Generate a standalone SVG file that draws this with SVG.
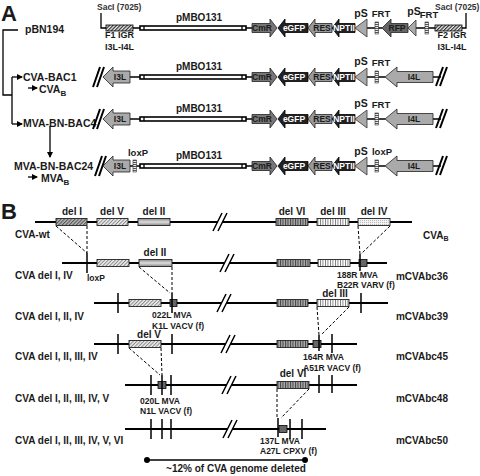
<svg xmlns="http://www.w3.org/2000/svg" width="480" height="476" viewBox="0 0 480 476">
<style>
text{font-family:"Liberation Sans",Arial,sans-serif;font-weight:bold;fill:#1a1a1a}
.t{font-size:10.5px}
.lb{font-size:10px}
.sm{font-size:8.5px}
.g{font-size:8.5px;text-anchor:middle}
.gw{font-size:8.5px;text-anchor:middle;fill:#fff}
.c{text-anchor:middle}
.e{text-anchor:end}
.ln{stroke:#000;stroke-width:1.3;fill:none}
.gl{stroke:#000;stroke-width:2;fill:none}
.sl{stroke:#000;stroke-width:2;fill:none}
.slb{stroke:#000;stroke-width:1.5;fill:none}
.bar{fill:#fff;stroke:#000;stroke-width:1.6}
.i34{fill:#aaa;stroke:#222;stroke-width:0.8}
.cmr{fill:#777;stroke:#222;stroke-width:0.8}
.blk{fill:#222;stroke:#000;stroke-width:0.8}
.res{fill:#999;stroke:#222;stroke-width:0.8}
.rfp{fill:#666;stroke:#222;stroke-width:0.8}
.ps{fill:#aaa;stroke:#333;stroke-width:0.8}
.frt{fill:url(#frt);stroke:#333;stroke-width:0.6}
.igr{fill:url(#igr);stroke:#000;stroke-width:0.8}
.tk{stroke:#000;stroke-width:1.5}
.dash{stroke:#000;stroke-width:1;stroke-dasharray:3,2;fill:none}
.sq{fill:#666;stroke:#000;stroke-width:0.8}
.box{stroke:#222;stroke-width:0.9}
</style>
<defs>
<marker id="ah" markerWidth="6" markerHeight="6" refX="5" refY="3" orient="auto" markerUnits="userSpaceOnUse"><path d="M0,0 L6,3 L0,6 Z" fill="#000"/></marker>
<pattern id="igr" width="2.5" height="2.5" patternUnits="userSpaceOnUse" patternTransform="rotate(45)"><rect width="2.5" height="2.5" fill="#eee"/><rect width="1.2" height="2.5" fill="#333"/></pattern>
<pattern id="frt" width="3" height="2" patternUnits="userSpaceOnUse"><rect width="3" height="2" fill="#eee"/><rect width="3" height="0.9" fill="#444"/></pattern>
<pattern id="pI" width="2.5" height="2.5" patternUnits="userSpaceOnUse" patternTransform="rotate(45)"><rect width="2.5" height="2.5" fill="#bbb"/><rect width="1.1" height="2.5" fill="#555"/></pattern>
<pattern id="pV" width="2.5" height="2.5" patternUnits="userSpaceOnUse" patternTransform="rotate(45)"><rect width="2.5" height="2.5" fill="#eee"/><rect width="1" height="2.5" fill="#888"/></pattern>
<linearGradient id="gII" x1="0" y1="0" x2="0" y2="1"><stop offset="0" stop-color="#888"/><stop offset="0.5" stop-color="#ddd"/><stop offset="1" stop-color="#888"/></linearGradient>
<pattern id="pVI" width="2.5" height="4" patternUnits="userSpaceOnUse"><rect width="2.5" height="4" fill="#aaa"/><rect width="1" height="4" fill="#444"/></pattern>
<pattern id="pIII" width="2.5" height="4" patternUnits="userSpaceOnUse"><rect width="2.5" height="4" fill="#fff"/><rect width="0.9" height="4" fill="#777"/></pattern>
<pattern id="pIV" width="2" height="2" patternUnits="userSpaceOnUse"><rect width="2" height="2" fill="#f2f2f2"/><rect width="0.8" height="0.8" fill="#999"/></pattern>
</defs>
<rect width="480" height="476" fill="#fff"/>

<!-- Part A -->
<text x="1" y="21" style="font-size:22px">A</text>

<g id="tree">
<path class="ln" d="M18,30 H3 V95 H12"/>
<path class="ln" d="M12,77 V124"/>
<line class="ln" x1="12" y1="77" x2="22" y2="77" marker-end="url(#ah)"/>
<line class="ln" x1="12" y1="124" x2="22" y2="124" marker-end="url(#ah)"/>
<line class="ln" x1="50" y1="126" x2="50" y2="157" marker-end="url(#ah)"/>
<line class="ln" x1="28" y1="88" x2="37" y2="88" marker-end="url(#ah)"/>
<line class="ln" x1="28" y1="177" x2="37" y2="177" marker-end="url(#ah)"/>
<text class="t" x="25" y="33">pBN194</text>
<text class="t" x="23" y="81">CVA-BAC1</text>
<text class="t" x="39" y="93">CVA<tspan style="font-size:8px" dy="3">B</tspan></text>
<text class="t" x="23" y="127">MVA-BN-BAC4</text>
<text class="t" x="14" y="170">MVA-BN-BAC24</text>
<text class="t" x="41" y="182">MVA<tspan style="font-size:8px" dy="3">B</tspan></text>
</g>

<g id="pBN194" transform="translate(0,28)">
<path class="ln" d="M101,-15 V0 H106"/>
<path class="ln" d="M133,0 H140 M246,0 H252 M367,0 H382 M415,0 H435 M462,0 H466 V-15"/>
<text class="sm" x="97" y="-18" style="fill:#333">SacI (7025)</text>
<text class="sm" x="435" y="-18" style="fill:#333">SacI (7025)</text>
<rect class="igr" x="106" y="-3" width="27" height="6"/>
<text class="c" x="119.5" y="10" style="font-size:9px">F1 IGR</text>
<text class="c" x="119.5" y="22" style="font-size:9px">I3L-I4L</text>
<rect class="bar" x="140" y="-2" width="106" height="4"/>
<path class="ln" d="M144,-2 V2 M242,-2 V2"/>
<text class="lb c" x="199" y="-7">pMBO131</text>
<path class="cmr" d="M252,-4.5 H270 V-9 L277,0 L270,9 V4.5 H252 Z"/>
<text class="g" x="262" y="3">CmR</text>
<path class="blk" d="M278,0 L285,-9 V-4.5 H308 V4.5 H285 V9 Z"/>
<text class="gw" x="294" y="3">eGFP</text>
<path class="res" d="M308,0 L315,-9 V-4.5 H332 V4.5 H315 V9 Z"/>
<text class="g" x="322" y="3">RES</text>
<path class="blk" d="M332,0 L339,-9 V-4.5 H355 V4.5 H339 V9 Z"/>
<text class="gw" x="344" y="3">NPTII</text>
<path class="ps" d="M355,0 L367,-9 V9 Z"/>
<text class="c" x="361" y="-11" style="font-size:10.5px">pS</text>
<rect class="frt" x="375" y="-6" width="3.5" height="12"/>
<text class="c" x="381" y="-11" style="font-size:9.5px">FRT</text>
<path class="rfp" d="M382,0 L391,-9 V-4.5 H408 V4.5 H391 V9 Z"/>
<text class="g" x="397" y="3">RFP</text>
<path class="ps" d="M408,0 L416,-8 V8 Z"/>
<text class="c" x="414" y="-13" style="font-size:10.5px">pS</text>
<rect class="frt" x="425" y="-6" width="3.5" height="12"/>
<text class="c" x="429" y="-10" style="font-size:9.5px">FRT</text>
<rect class="igr" x="435" y="-3" width="27" height="6"/>
<text class="c" x="452" y="10" style="font-size:9px">F2 IGR</text>
<text class="c" x="452" y="22" style="font-size:9px">I3L-I4L</text>
</g>

<g id="CVA-BAC1" transform="translate(0,77)">
<path class="ln" d="M130,0 H140 M246,0 H252 M367,0 H385 M433,0 H441"/>
<path class="sl" d="M93,10 L100,-10 M97,10 L104,-10"/>
<path class="i34" d="M103,0 L113,-10 V-6 H130 V6 H113 V10 Z"/>
<text class="g" x="120" y="3">I3L</text>
<rect class="bar" x="140" y="-2" width="106" height="4"/>
<path class="ln" d="M144,-2 V2 M242,-2 V2"/>
<text class="lb c" x="199" y="-7">pMBO131</text>
<path class="cmr" d="M252,-4.5 H270 V-9 L277,0 L270,9 V4.5 H252 Z"/>
<text class="g" x="262" y="3">CmR</text>
<path class="blk" d="M278,0 L285,-9 V-4.5 H308 V4.5 H285 V9 Z"/>
<text class="gw" x="294" y="3">eGFP</text>
<path class="res" d="M308,0 L315,-9 V-4.5 H332 V4.5 H315 V9 Z"/>
<text class="g" x="322" y="3">RES</text>
<path class="blk" d="M332,0 L339,-9 V-4.5 H355 V4.5 H339 V9 Z"/>
<text class="gw" x="344" y="3">NPTII</text>
<path class="ps" d="M355,0 L367,-9 V9 Z"/>
<text class="c" x="361" y="-12" style="font-size:10.5px">pS</text>
<rect class="frt" x="375" y="-6" width="3.5" height="12"/>
<text class="c" x="381" y="-11" style="font-size:9.5px">FRT</text>
<path class="i34" d="M385,0 L397,-10 V-5.5 H433 V5.5 H397 V10 Z"/>
<text class="g" x="414" y="3">I4L</text>
<path class="sl" d="M436,9 L443,-10 M440,9 L447,-10"/>
</g>

<g id="MVA-BN-BAC4" transform="translate(0,119)">
<path class="ln" d="M130,0 H140 M246,0 H252 M367,0 H385 M433,0 H441"/>
<path class="sl" d="M93,10 L100,-10 M97,10 L104,-10"/>
<path class="i34" d="M103,0 L113,-10 V-6 H130 V6 H113 V10 Z"/>
<text class="g" x="120" y="3">I3L</text>
<rect class="bar" x="140" y="-2" width="106" height="4"/>
<path class="ln" d="M144,-2 V2 M242,-2 V2"/>
<text class="lb c" x="199" y="-7">pMBO131</text>
<path class="cmr" d="M252,-4.5 H270 V-9 L277,0 L270,9 V4.5 H252 Z"/>
<text class="g" x="262" y="3">CmR</text>
<path class="blk" d="M278,0 L285,-9 V-4.5 H308 V4.5 H285 V9 Z"/>
<text class="gw" x="294" y="3">eGFP</text>
<path class="res" d="M308,0 L315,-9 V-4.5 H332 V4.5 H315 V9 Z"/>
<text class="g" x="322" y="3">RES</text>
<path class="blk" d="M332,0 L339,-9 V-4.5 H355 V4.5 H339 V9 Z"/>
<text class="gw" x="344" y="3">NPTII</text>
<path class="ps" d="M355,0 L367,-9 V9 Z"/>
<text class="c" x="361" y="-12" style="font-size:10.5px">pS</text>
<rect class="frt" x="375" y="-6" width="3.5" height="12"/>
<text class="c" x="381" y="-11" style="font-size:9.5px">FRT</text>
<path class="i34" d="M385,0 L397,-10 V-5.5 H433 V5.5 H397 V10 Z"/>
<text class="g" x="414" y="3">I4L</text>
<path class="sl" d="M436,9 L443,-10 M440,9 L447,-10"/>
</g>

<g id="MVA-BN-BAC24" transform="translate(0,166)">
<path class="ln" d="M130,0 H140 M246,0 H252 M367,0 H385 M433,0 H441"/>
<path class="sl" d="M95,10 L102,-10 M99,10 L106,-10"/>
<path class="i34" d="M103,0 L113,-10 V-6 H130 V6 H113 V10 Z"/>
<text class="g" x="120" y="3">I3L</text>
<rect class="frt" x="133" y="-6" width="3.5" height="12"/>
<text class="c" x="138" y="-10" style="font-size:9.5px">loxP</text>
<rect class="bar" x="140" y="-2" width="106" height="4"/>
<path class="ln" d="M144,-2 V2 M242,-2 V2"/>
<text class="lb c" x="199" y="-7">pMBO131</text>
<path class="cmr" d="M252,-4.5 H270 V-9 L277,0 L270,9 V4.5 H252 Z"/>
<text class="g" x="262" y="3">CmR</text>
<path class="blk" d="M278,0 L285,-9 V-4.5 H308 V4.5 H285 V9 Z"/>
<text class="gw" x="294" y="3">eGFP</text>
<path class="res" d="M308,0 L315,-9 V-4.5 H332 V4.5 H315 V9 Z"/>
<text class="g" x="322" y="3">RES</text>
<path class="blk" d="M332,0 L339,-9 V-4.5 H355 V4.5 H339 V9 Z"/>
<text class="gw" x="344" y="3">NPTII</text>
<path class="ps" d="M355,0 L367,-9 V9 Z"/>
<text class="c" x="361" y="-11" style="font-size:10.5px">pS</text>
<rect class="frt" x="375" y="-6" width="3.5" height="12"/>
<text class="c" x="382" y="-11" style="font-size:9.5px">loxP</text>
<path class="i34" d="M385,0 L397,-10 V-5.5 H433 V5.5 H397 V10 Z"/>
<text class="g" x="414" y="3">I4L</text>
<path class="sl" d="M436,9 L443,-10 M440,9 L447,-10"/>
</g>

<!-- Part B -->
<text x="1" y="219" style="font-size:22px">B</text>

<g id="connectors">
<path class="dash" d="M56,226 L87,253 M87,226 V253"/>
<path class="dash" d="M390,226 L361,254 M358,226 L360,254"/>
<path class="dash" d="M139,267 L170,293 M172,267 V293"/>
<path class="dash" d="M349,307 L321,335 M317,307 L319,335"/>
<path class="dash" d="M129,348 L160,375 M161,348 L162,375"/>
<path class="dash" d="M277,389 V418 M309,389 L281,418"/>
</g>

<g id="CVA-wt">
<line class="gl" x1="35" y1="222" x2="412" y2="222"/>
<rect class="box" x="56" y="218.5" width="31" height="7" fill="url(#pI)"/>
<rect class="box" x="97" y="218.5" width="31" height="7" fill="url(#pV)"/>
<rect class="box" x="138" y="218.5" width="32" height="7" fill="url(#gII)"/>
<rect class="box" x="276" y="218.5" width="32" height="7" fill="url(#pVI)"/>
<rect class="box" x="317" y="218.5" width="32" height="7" fill="url(#pIII)"/>
<rect class="box" x="358" y="218.5" width="32" height="7" fill="url(#pIV)"/>
<polygon points="213,231 222,213 227,213 218,231" fill="#fff"/>
<path class="slb" d="M213,231 L222,213 M218,231 L227,213"/>
<text class="lb c" x="72" y="215">del I</text>
<text class="lb c" x="112" y="215">del V</text>
<text class="lb c" x="154" y="215">del II</text>
<text class="lb c" x="292" y="215">del VI</text>
<text class="lb c" x="333" y="215">del III</text>
<text class="lb c" x="374" y="215">del IV</text>
<text class="lb" x="15" y="238">CVA-wt</text>
<text class="lb" x="423" y="239">CVA<tspan style="font-size:7px" dy="2">B</tspan></text>
</g>

<g id="CVA-del-I-IV">
<line class="gl" x1="62" y1="263" x2="387" y2="263"/>
<line class="tk" x1="87" y1="253" x2="87" y2="273"/>
<rect class="box" x="97" y="259.5" width="32" height="7" fill="url(#pV)"/>
<rect class="box" x="139" y="259.5" width="33" height="7" fill="url(#gII)"/>
<rect class="box" x="277" y="259.5" width="33" height="7" fill="url(#pVI)"/>
<rect class="box" x="318" y="259.5" width="32" height="7" fill="url(#pIII)"/>
<rect class="sq" x="359" y="259.5" width="8" height="7"/>
<line class="tk" x1="360" y1="254" x2="360" y2="271"/>
<polygon points="220,272 229,254 234,254 225,272" fill="#fff"/>
<path class="slb" d="M220,272 L229,254 M225,272 L234,254"/>
<text class="lb c" x="155" y="256">del II</text>
<text class="sm" x="87" y="281">loxP</text>
<text class="sm" x="337" y="278">188R MVA</text>
<text class="sm" x="337" y="288">B22R VARV (f)</text>
<text class="lb" x="15" y="279">CVA del I, IV</text>
<text class="lb e" x="448" y="280">mCVAbc36</text>
</g>

<g id="CVA-del-I-II-IV">
<line class="gl" x1="94" y1="303" x2="388" y2="303"/>
<line class="tk" x1="118" y1="293" x2="118" y2="313"/>
<rect class="box" x="129" y="299.5" width="32" height="7" fill="url(#pV)"/>
<rect class="sq" x="170" y="299.5" width="7" height="7"/>
<line class="tk" x1="172" y1="293" x2="172" y2="313"/>
<rect class="box" x="277" y="299.5" width="31" height="7" fill="url(#pVI)"/>
<rect class="box" x="317" y="299.5" width="32" height="7" fill="url(#pIII)"/>
<line class="tk" x1="361" y1="293" x2="361" y2="313"/>
<polygon points="217,312 226,294 231,294 222,312" fill="#fff"/>
<path class="slb" d="M217,312 L226,294 M222,312 L231,294"/>
<text class="lb c" x="335" y="297">del III</text>
<text class="sm" x="152" y="318">022L MVA</text>
<text class="sm" x="152" y="329">K1L VACV (f)</text>
<text class="lb" x="15" y="320">CVA del I, II, IV</text>
<text class="lb e" x="448" y="320">mCVAbc39</text>
</g>

<g id="CVA-del-I-II-III-IV">
<line class="gl" x1="94" y1="344" x2="357" y2="344"/>
<line class="tk" x1="118" y1="334" x2="118" y2="354"/>
<rect class="box" x="129" y="340.5" width="32" height="7" fill="url(#pV)"/>
<line class="tk" x1="172" y1="334" x2="172" y2="354"/>
<rect class="box" x="277" y="340.5" width="31" height="7" fill="url(#pVI)"/>
<rect class="sq" x="313" y="340.5" width="8" height="7"/>
<line class="tk" x1="319" y1="335" x2="319" y2="351"/>
<line class="tk" x1="332" y1="334" x2="332" y2="353"/>
<polygon points="221,353 230,335 235,335 226,353" fill="#fff"/>
<path class="slb" d="M221,353 L230,335 M226,353 L235,335"/>
<text class="lb c" x="149" y="338">del V</text>
<text class="sm" x="303" y="360">164R MVA</text>
<text class="sm" x="303" y="371">A51R VACV (f)</text>
<text class="lb" x="15" y="360">CVA del I, II, III, IV</text>
<text class="lb e" x="448" y="360">mCVAbc45</text>
</g>

<g id="CVA-del-I-II-III-IV-V">
<line class="gl" x1="125" y1="385" x2="357" y2="385"/>
<line class="tk" x1="151" y1="375" x2="151" y2="395"/>
<rect class="sq" x="158" y="381.5" width="8" height="7"/>
<line class="tk" x1="162" y1="375" x2="162" y2="395"/>
<line class="tk" x1="171" y1="375" x2="171" y2="395"/>
<rect class="box" x="277" y="381.5" width="32" height="7" fill="url(#pVI)"/>
<line class="tk" x1="319" y1="375" x2="319" y2="393"/>
<line class="tk" x1="332" y1="375" x2="332" y2="393"/>
<polygon points="222,394 231,376 236,376 227,394" fill="#fff"/>
<path class="slb" d="M222,394 L231,376 M227,394 L236,376"/>
<text class="lb c" x="293" y="377">del VI</text>
<text class="sm" x="140" y="404">020L MVA</text>
<text class="sm" x="140" y="414">N1L VACV (f)</text>
<text class="lb" x="15" y="402">CVA del I, II, III, IV, V</text>
<text class="lb e" x="448" y="402">mCVAbc48</text>
</g>

<g id="CVA-del-I-II-III-IV-V-VI">
<line class="gl" x1="125" y1="429" x2="326" y2="429"/>
<line class="tk" x1="151" y1="419" x2="151" y2="439"/>
<line class="tk" x1="162" y1="419" x2="162" y2="439"/>
<line class="tk" x1="171" y1="419" x2="171" y2="439"/>
<rect class="sq" x="279" y="425.5" width="8" height="7"/>
<line class="tk" x1="278" y1="418" x2="278" y2="437"/>
<line class="tk" x1="290" y1="419" x2="290" y2="439"/>
<line class="tk" x1="302" y1="419" x2="302" y2="439"/>
<polygon points="223,438 232,420 237,420 228,438" fill="#fff"/>
<path class="slb" d="M223,438 L232,420 M228,438 L237,420"/>
<text class="sm" x="260" y="444">137L MVA</text>
<text class="sm" x="260" y="454">A27L CPXV (f)</text>
<text class="lb" x="15" y="444">CVA del I, II, III, IV, V, VI</text>
<text class="lb e" x="448" y="444">mCVAbc50</text>
</g>

<g id="scale">
<line class="ln" x1="147" y1="460" x2="305" y2="460"/>
<circle cx="147" cy="460" r="3" fill="#000"/>
<circle cx="305" cy="460" r="3" fill="#000"/>
<text class="lb c" x="236" y="472">~12% of CVA genome deleted</text>
</g>
</svg>
